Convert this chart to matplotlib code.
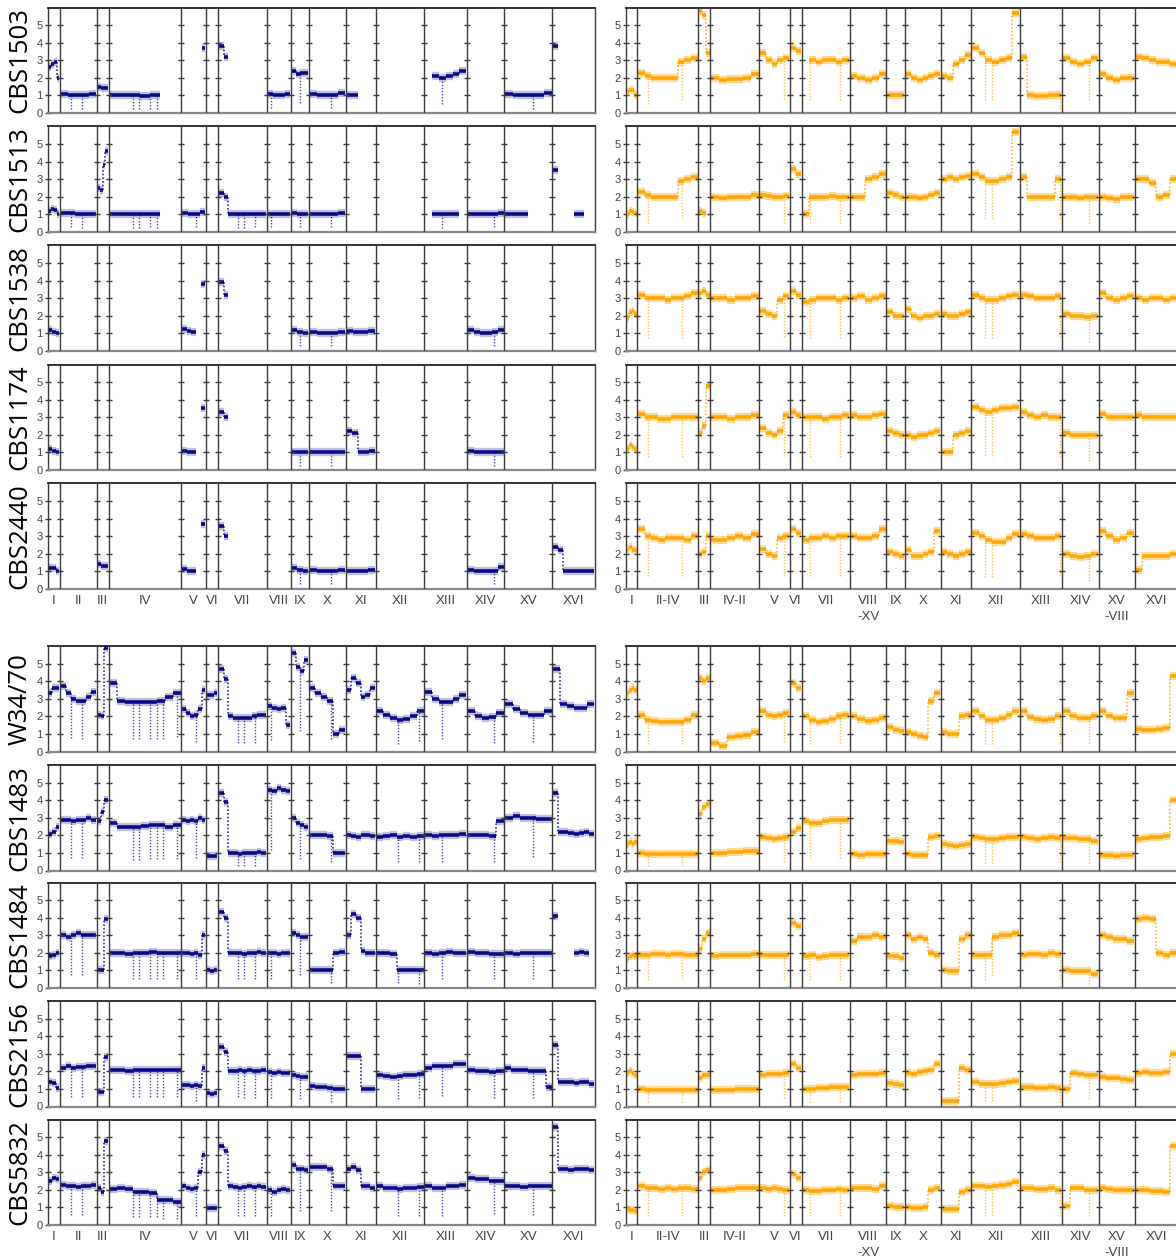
import numpy as np
import matplotlib
matplotlib.use('Agg')
import matplotlib.pyplot as plt

nan = float('nan')

# ---------------- chromosome layout (relative widths) ----------------
LEFT_CHROMS = ['I', 'II', 'III', 'IV', 'V', 'VI', 'VII', 'VIII', 'IX', 'X',
               'XI', 'XII', 'XIII', 'XIV', 'XV', 'XVI']
LEFT_WIDTHS = [22, 67, 22, 133, 45, 22, 89, 44, 33, 67, 55, 89, 78, 68, 88, 78]
RIGHT_CHROMS = ['I', 'II-IV', 'III', 'IV-II', 'V', 'VI', 'VII', 'VIII\n-XV', 'IX', 'X',
                'XI', 'XII', 'XIII', 'XIV', 'XV\n-VIII', 'XVI']
RIGHT_WIDTHS = [21, 111, 22, 90, 55, 22, 88, 67, 34, 65, 56, 89, 77, 67, 66, 78]

STRAINS = ['CBS1503', 'CBS1513', 'CBS1538', 'CBS1174', 'CBS2440',
           'W34/70', 'CBS1483', 'CBS1484', 'CBS2156', 'CBS5832']

# positions of recurrent coverage drop-outs along each genome (same units as widths)
DIPS_L = [42, 63, 156, 167, 186, 199, 211, 236, 271, 348, 359, 378, 407, 461, 517,
          640, 679, 721, 816, 887]
DIPS_R = [40, 102, 289, 337, 392, 657, 670, 794, 846]

# ---------------- copy-number levels (left: navy, right: orange) ----------------
# each chromosome: list of levels along the chromosome (nan = no data)
CBS1503_L = [
    [2.6, 2.8, 2.9, 2.0], [1.1, 1.0, 1.0, 1.0, 1.1], [1.5, 1.4, 1.4],
    [1.05, 1.0, 1.0, 0.95, 1.0, nan, nan], [nan, nan, nan, nan, nan, 3.7], [],
    [3.8, 3.2, nan, nan, nan, nan, nan, nan, nan, nan], [1.1, 1.0, 1.05, 1.1],
    [2.4, 2.2, 2.3, 2.3], [1.1, 1.0, 1.0, 1.05, 1.15], [1.05, 1.0, nan, nan, nan], [],
    [nan, 2.1, 2.0, 2.1, 2.2, 2.4], [], [1.1, 1.0, 1.0, 1.0, 1.05, 1.15],
    [3.8, nan, nan, nan, nan, nan, nan, nan]]
CBS1503_R = [
    [1.2, 1.3, 1.3, 1.0], [2.3, 2.1, 2.0, 2.0, 2.0, 2.0, 2.9, 3.0, 3.1], [5.8, 5.6, 3.4],
    [2.0, 1.9, 1.95, 1.95, 2.0, 2.2], [3.4, 3.0, 2.8, 3.0, 3.1], [3.7, 3.5],
    [nan, 3.0, 2.9, 3.0, 3.0, 2.9, 3.0], [2.1, 2.0, 1.9, 2.0, 2.2], [1.05, 1.0, 1.05],
    [2.2, 2.0, 1.9, 2.0, 2.1, 2.2], [2.1, 2.0, 2.8, 3.0, 3.3], [3.7, 3.4, 3.0, 2.9, 3.0, 3.1, 5.7],
    [3.2, 1.0, 0.95, 0.95, 1.0, 1.0], [3.1, 2.9, 2.8, 2.9, 3.1], [2.2, 2.0, 1.9, 2.0, 2.0],
    [3.2, 3.1, 3.0, 2.9, 2.9, 2.8]]

CBS1513_L = [
    [1.2, 1.3, 1.25, 1.0], [1.1, 1.1, 1.05, 1.0, 1.05], [2.5, 2.4, 3.8, 4.6],
    [1.05, 1.0, 1.0, 1.05, 1.0, nan, nan], [1.1, 1.05, 1.05, 1.15], [],
    [2.2, 2.0, 1.05, 1.0, 1.0, 1.0, 1.05, 1.05, 1.0, 1.05], [1.05, 1.0, 1.0, 1.05],
    [1.1, 1.05, 1.05], [1.05, 1.0, 1.0, 1.05, 1.1], [], [],
    [nan, 1.0, 1.0, 1.0, 1.05, nan], [1.05, 1.0, 1.0, 1.0, 1.05, 1.1],
    [1.05, 1.0, 1.05, nan, nan, nan], [3.5, nan, nan, nan, 1.0, 1.05, nan, nan]]
CBS1513_R = [
    [1.0, 1.2, 1.15, 1.1], [2.3, 2.1, 2.0, 2.0, 2.0, 2.0, 2.9, 3.0, 3.1], [1.2, 1.1, nan],
    [2.0, 1.95, 2.0, 2.0, 2.0, 2.1], [2.1, 2.05, 2.0, 2.0, 2.05], [3.6, 3.3],
    [1.0, 2.0, 2.0, 2.0, 2.05, 2.0, 2.0], [2.0, 2.0, 3.0, 3.1, 3.3], [2.2, 2.1, 2.0],
    [2.0, 2.0, 1.95, 2.0, 2.1, 2.2], [3.0, 3.1, 3.0, 3.1, 3.2], [3.3, 3.1, 2.9, 2.9, 3.0, 3.1, 5.7],
    [3.1, 2.0, 2.0, 2.0, 2.0, 3.0], [2.0, 2.0, 1.95, 2.0, 2.0], [2.0, 1.95, 1.9, 2.0, 2.0],
    [3.0, 3.0, 2.8, 2.0, 2.1, 3.0]]

CBS1538_L = [
    [1.2, 1.1, 1.05], [], [], [], [1.25, 1.15, 1.1, nan, 3.8], [],
    [3.9, 3.2, nan, nan, nan, nan, nan, nan, nan, nan], [], [1.2, 1.1, 1.05],
    [1.1, 1.0, 1.0, 1.05, 1.1], [1.15, 1.1, 1.1, 1.15], [], [],
    [1.2, 1.1, 1.05, 1.05, 1.1, 1.2], [], []]
CBS1538_R = [
    [1.9, 2.2, 2.3, 2.1], [3.2, 3.0, 3.0, 3.0, 2.9, 3.0, 3.0, 3.1, 3.3], [3.3, 3.4, 3.2],
    [3.0, 3.0, 2.9, 3.0, 3.0, 3.1], [2.3, 2.1, 2.0, 2.9, 3.1], [3.4, 3.2],
    [2.8, 2.9, 3.0, 3.0, 3.0, 2.9, 3.0], [3.0, 3.1, 2.9, 3.0, 3.1], [2.2, 2.0, 2.0],
    [2.4, 2.0, 1.9, 2.0, 2.0, 2.1], [2.1, 2.0, 2.0, 2.1, 2.2], [3.2, 3.0, 2.9, 2.9, 3.0, 3.1, 3.2],
    [3.2, 3.1, 3.0, 3.0, 3.0, 3.1], [2.1, 2.0, 2.0, 1.95, 2.0], [3.3, 3.0, 2.9, 3.0, 3.1],
    [3.0, 2.9, 3.0, 3.0, 2.9, 3.0]]

CBS1174_L = [
    [1.2, 1.1, 1.0], [], [], [], [1.1, 1.05, 1.0, nan, 3.5], [],
    [3.3, 3.0, nan, nan, nan, nan, nan, nan, nan, nan], [], [1.05, 1.0, 1.0],
    [1.05, 1.0, 1.0, 1.0, 1.05], [2.2, 2.1, 1.05, 1.0, 1.1], [], [],
    [1.1, 1.0, 1.0, 1.0, 1.0, 1.05], [], []]
CBS1174_R = [
    [1.2, 1.4, 1.3, 1.2], [3.2, 3.0, 3.0, 2.9, 2.9, 3.0, 3.0, 3.0, 3.0], [2.1, 2.5, 4.8],
    [3.0, 3.0, 2.9, 3.0, 3.0, 3.1], [2.4, 2.1, 2.0, 2.2, 3.1], [3.3, 3.1],
    [3.0, 3.0, 3.0, 2.9, 3.0, 3.0, 3.1], [3.1, 3.0, 3.0, 3.1, 3.2], [2.2, 2.1, 2.0],
    [2.0, 1.9, 2.0, 2.0, 2.1, 2.2], [1.05, 1.0, 2.0, 2.1, 2.2], [3.6, 3.4, 3.3, 3.4, 3.5, 3.5, 3.6],
    [3.3, 3.1, 3.0, 3.1, 3.0, 3.0], [2.1, 2.0, 2.0, 2.0, 2.0], [3.2, 3.0, 3.0, 3.0, 3.0],
    [3.1, 3.0, 3.0, 3.0, 3.0, 3.0]]

CBS2440_L = [
    [1.2, 1.2, 1.0], [], [1.4, 1.3, 1.3], [], [1.15, 1.05, 1.0, nan, 3.7], [],
    [3.6, 3.0, nan, nan, nan, nan, nan, nan, nan, nan], [], [1.2, 1.1, 1.05],
    [1.1, 1.05, 1.0, 1.05, 1.1], [1.0, 1.0, 1.05, 1.1], [], [],
    [1.1, 1.0, 1.0, 1.0, 1.05, 1.25], [], [2.4, 2.2, 1.0, 1.0, 1.0, 1.0, 1.0, 1.0]]
CBS2440_R = [
    [2.3, 2.4, 2.2, 2.2], [3.4, 3.0, 2.9, 2.8, 2.9, 2.9, 2.9, 2.8, 3.0], [2.0, 2.1, 3.0],
    [2.8, 2.8, 2.9, 3.0, 2.9, 3.1], [2.3, 2.0, 1.9, 2.9, 3.0], [3.4, 3.2],
    [2.8, 2.9, 2.9, 3.0, 2.9, 3.0, 3.0], [3.0, 2.9, 2.9, 3.0, 3.4], [2.1, 2.0, 1.9],
    [2.2, 1.9, 1.9, 2.0, 2.1, 3.3], [2.1, 2.0, 1.9, 2.0, 2.1], [3.2, 3.0, 2.8, 2.7, 2.7, 2.9, 3.1],
    [3.1, 3.0, 2.9, 2.9, 2.9, 3.0], [2.0, 1.9, 1.8, 1.9, 2.0], [3.3, 3.0, 2.8, 2.9, 3.2],
    [1.1, 1.9, 1.9, 1.9, 1.9, 2.0]]

W3470_L = [
    [3.3, 3.6, 3.6], [3.7, 3.3, 3.0, 2.9, 2.9, 3.1, 3.4], [2.1, 2.0, 5.9],
    [3.9, 2.9, 2.8, 2.8, 2.8, 2.8, 2.9, 3.1, 3.3], [2.4, 2.2, 2.0, 2.1, 2.4, 3.5], [3.2, 3.2, 3.3],
    [4.7, 4.1, 2.0, 1.9, 1.9, 1.9, 1.9, 2.0, 2.05, 2.1], [2.6, 2.5, 2.4, 2.5, 1.5],
    [5.6, 4.8, 4.6, 5.2], [3.6, 3.3, 3.1, 2.9, 1.0, 1.2], [3.5, 4.2, 3.9, 3.1, 3.2, 3.6],
    [2.3, 2.1, 1.9, 1.8, 1.85, 2.0, 2.3], [3.4, 3.0, 2.8, 2.8, 3.0, 3.2],
    [2.3, 2.0, 1.9, 1.95, 2.2], [2.7, 2.4, 2.2, 2.1, 2.1, 2.3], [4.7, 2.7, 2.6, 2.5, 2.5, 2.7]]
W3470_R = [
    [3.3, 3.5, 3.6, 3.5], [2.1, 1.8, 1.75, 1.7, 1.7, 1.7, 1.7, 1.8, 2.1], [4.2, 4.0, 4.2],
    [0.5, 0.3, 0.85, 0.9, 0.95, 1.1], [2.3, 2.1, 2.0, 2.05, 2.2], [3.9, 3.6],
    [2.0, 1.8, 1.7, 1.75, 1.85, 2.0, 2.1], [2.0, 1.85, 1.75, 1.8, 1.9], [1.4, 1.2, 1.15],
    [1.1, 1.0, 0.9, 0.85, 2.9, 3.3], [1.1, 1.0, 1.0, 2.0, 2.1], [2.3, 2.0, 1.8, 1.8, 1.9, 2.1, 2.3],
    [2.3, 1.95, 1.85, 1.8, 1.85, 2.0], [2.3, 2.0, 1.9, 1.9, 2.0], [2.3, 2.0, 1.9, 1.9, 3.3],
    [1.3, 1.25, 1.25, 1.3, 1.35, 4.3]]

CBS1483_L = [
    [2.1, 2.2, 2.5], [2.9, 2.9, 2.8, 2.9, 2.9, 3.0, 2.9], [2.8, 3.3, 4.0],
    [2.7, 2.5, 2.5, 2.5, 2.55, 2.6, 2.6, 2.5, 2.6], [2.9, 2.8, 2.9, 2.8, 3.0, 2.9], [0.8, 0.8, 0.8],
    [4.4, 3.9, 1.0, 1.0, 0.95, 1.0, 1.0, 1.0, 1.05, 1.0], [4.6, 4.5, 4.7, 4.6, 4.5],
    [3.0, 2.7, 2.6, 2.5], [2.0, 2.0, 2.0, 1.95, 1.0, 1.0], [2.0, 1.95, 1.9, 2.0, 2.0, 1.95],
    [1.9, 1.95, 2.0, 1.9, 1.95, 1.9, 1.95], [2.0, 1.95, 2.0, 2.0, 2.0, 2.05],
    [2.0, 2.0, 2.0, 1.95, 2.8], [3.0, 3.1, 3.0, 3.0, 2.95, 2.95],
    [4.4, 2.2, 2.2, 2.15, 2.1, 2.15, 2.2, 2.1]]
CBS1483_R = [
    [1.5, 1.6, 1.5, 1.6], [1.0, 0.95, 0.95, 0.95, 0.95, 0.95, 0.95, 0.95, 0.95], [3.2, 3.6, 3.8],
    [1.0, 1.0, 1.05, 1.05, 1.1, 1.1], [1.9, 1.85, 1.8, 1.85, 1.9], [2.2, 2.4],
    [2.8, 2.7, 2.7, 2.8, 2.9, 2.9, 2.9], [0.95, 0.9, 0.95, 0.95, 0.95], [1.7, 1.7, 1.6],
    [0.95, 0.9, 0.9, 0.9, 1.9, 1.95], [1.5, 1.45, 1.4, 1.45, 1.5], [1.9, 1.85, 1.8, 1.8, 1.85, 1.9, 1.9],
    [1.9, 1.85, 1.8, 1.85, 1.9, 1.85], [1.85, 1.85, 1.8, 1.8, 1.7], [0.9, 0.9, 0.85, 0.9, 0.9],
    [1.8, 1.85, 1.9, 1.9, 1.95, 4.0]]

CBS1484_L = [
    [1.8, 1.9, 2.0], [3.0, 2.9, 3.0, 3.1, 3.0, 3.0, 3.0], [1.0, 1.0, 3.9],
    [2.0, 2.0, 1.95, 2.0, 2.0, 2.05, 2.0, 2.0, 2.0], [2.0, 2.0, 1.95, 2.0, 1.9, 3.0], [1.0, 0.95, 1.0],
    [4.3, 4.0, 2.0, 2.0, 2.0, 1.95, 2.0, 2.0, 2.05, 2.0], [2.0, 2.0, 1.95, 2.0, 2.0],
    [3.1, 3.0, 2.9, 2.9], [1.05, 1.0, 1.0, 1.05, 2.0, 2.05], [3.0, 4.2, 4.0, 2.1, 2.0, 2.0],
    [2.0, 2.0, 1.95, 1.05, 1.0, 1.0, 1.0], [2.0, 1.95, 2.0, 2.05, 2.0, 2.0],
    [2.05, 2.0, 2.0, 1.95, 1.95], [2.0, 1.95, 2.0, 2.0, 2.0, 2.0],
    [4.1, nan, nan, nan, 2.0, 2.05, 2.0, nan]]
CBS1484_R = [
    [1.7, 1.8, 1.9, 1.8], [1.9, 1.9, 1.95, 1.95, 1.9, 1.95, 1.95, 1.9, 1.9], [2.2, 2.8, 3.1],
    [1.8, 1.85, 1.85, 1.9, 1.9, 1.95], [1.9, 1.85, 1.85, 1.9, 1.9], [3.7, 3.5],
    [1.8, 1.85, 1.75, 1.8, 1.85, 1.9, 1.9], [2.7, 2.9, 2.9, 3.0, 2.9], [1.8, 1.8, 1.7],
    [3.0, 2.8, 2.9, 2.8, 2.0, 1.9], [1.0, 0.95, 0.95, 2.8, 3.0], [1.9, 1.9, 1.85, 2.9, 3.0, 3.0, 3.1],
    [1.9, 1.95, 1.95, 1.9, 2.0, 1.95], [1.0, 0.95, 0.95, 0.95, 0.8], [3.0, 2.9, 2.8, 2.8, 2.7],
    [3.9, 4.0, 3.9, 2.0, 1.9, 2.0]]

CBS2156_L = [
    [1.4, 1.35, 1.05], [2.2, 2.3, 2.2, 2.25, 2.25, 2.3, 2.3], [0.8, 0.8, 2.8],
    [2.1, 2.05, 2.0, 2.05, 2.1, 2.05, 2.1, 2.05, 2.05], [1.25, 1.2, 1.15, 1.2, 1.15, 2.2],
    [0.75, 0.7, 0.75], [3.4, 3.1, 2.0, 2.0, 2.05, 2.0, 2.05, 2.0, 2.0, 2.05],
    [1.95, 1.9, 1.95, 1.9, 1.9], [1.8, 1.75, 1.7, 1.7], [1.15, 1.1, 1.1, 1.05, 1.0, 1.0],
    [2.9, 2.9, 2.85, 1.0, 1.0, 1.0], [1.8, 1.75, 1.7, 1.75, 1.8, 1.8, 1.85],
    [2.2, 2.3, 2.3, 2.3, 2.4, 2.4], [2.05, 2.0, 2.0, 1.95, 2.0],
    [2.2, 2.1, 2.05, 2.05, 2.0, 2.0, 2.0, 1.1], [3.5, 1.4, 1.4, 1.4, 1.35, 1.4, 1.4, 1.3]]
CBS2156_R = [
    [1.9, 2.0, 1.9, 1.8], [1.0, 0.95, 0.95, 0.95, 0.95, 0.95, 0.95, 0.95, 0.95], [1.6, 1.8, 1.8],
    [0.95, 0.95, 0.95, 1.0, 1.0, 1.0], [1.8, 1.85, 1.85, 1.85, 1.9], [2.4, 2.2],
    [1.0, 1.0, 1.05, 1.05, 1.1, 1.1, 1.1], [1.8, 1.85, 1.85, 1.85, 1.9], [1.35, 1.3, 1.2],
    [1.9, 1.85, 1.95, 2.0, 2.1, 2.4], [0.3, 0.3, 0.3, 2.2, 2.1], [1.4, 1.3, 1.3, 1.3, 1.35, 1.4, 1.45],
    [1.1, 1.1, 1.05, 1.05, 1.1, 1.05], [1.0, 1.9, 1.85, 1.8, 1.8], [1.7, 1.6, 1.6, 1.55, 1.5],
    [1.9, 1.95, 1.9, 1.9, 1.95, 3.0]]

CBS5832_L = [
    [2.5, 2.7, 2.6], [2.3, 2.2, 2.2, 2.15, 2.2, 2.2, 2.3], [2.1, 1.9, 4.8],
    [2.05, 2.1, 2.05, 1.9, 1.85, 1.8, 1.4, 1.4, 1.3], [2.2, 2.1, 2.05, 2.1, 3.0, 4.0],
    [0.95, 0.95, 0.95], [4.5, 4.2, 2.2, 2.15, 2.1, 2.15, 2.2, 2.15, 2.2, 2.15],
    [2.0, 1.9, 2.0, 2.05, 2.0], [3.4, 3.2, 3.2, 3.1], [3.3, 3.3, 3.3, 3.2, 2.2, 2.2],
    [3.2, 3.3, 3.1, 2.2, 2.2, 2.1], [2.2, 2.1, 2.1, 2.05, 2.1, 2.1, 2.15],
    [2.2, 2.1, 2.1, 2.2, 2.2, 2.25], [2.7, 2.6, 2.6, 2.5, 2.5],
    [2.2, 2.2, 2.15, 2.2, 2.2, 2.2], [5.6, 3.2, 3.2, 3.1, 3.2, 3.2, 3.2, 3.1]]
CBS5832_R = [
    [0.9, 0.85, 0.85, 0.8], [2.2, 2.1, 2.1, 2.05, 2.1, 2.05, 2.1, 2.1, 2.05], [2.7, 3.0, 3.1],
    [2.0, 2.0, 2.05, 2.1, 2.1, 2.1], [2.1, 2.05, 2.1, 2.05, 2.0], [2.9, 2.7],
    [2.0, 1.95, 1.95, 2.0, 2.0, 2.05, 2.0], [2.1, 2.1, 2.1, 2.05, 2.2], [1.1, 1.0, 1.0],
    [1.0, 0.95, 0.95, 1.0, 2.0, 2.1], [0.9, 0.9, 0.9, 1.9, 2.0], [2.2, 2.2, 2.15, 2.2, 2.25, 2.35, 2.45],
    [2.1, 2.1, 2.05, 2.05, 2.1, 2.0], [1.1, 2.1, 2.1, 2.0, 2.0], [2.1, 2.05, 2.0, 2.0, 2.0],
    [2.0, 2.0, 1.95, 1.95, 1.9, 4.5]]

LEFT_DATA = [CBS1503_L, CBS1513_L, CBS1538_L, CBS1174_L, CBS2440_L,
             W3470_L, CBS1483_L, CBS1484_L, CBS2156_L, CBS5832_L]
RIGHT_DATA = [CBS1503_R, CBS1513_R, CBS1538_R, CBS1174_R, CBS2440_R,
              W3470_R, CBS1483_R, CBS1484_R, CBS2156_R, CBS5832_R]

NAVY = '#000080'
ORANGE = '#FFA500'

# ---------------- layout ----------------
W, H = 1176, 1258
fig = plt.figure(figsize=(W / 100, H / 100), dpi=100)

ROW_TOPS = [7.5, 126.5, 245.5, 364.5, 483.5, 646, 765, 882.5, 1001, 1119.5]
ROW_H = 105.5
LEFT_X0, RIGHT_X0 = 48, 626
PX_PER_UNIT = 547 / 1000.0

LINE_COL = '#3a3a3a'
TICK_FONT = 'Liberation Sans'


def level_at(edges, profiles, pos, pad):
    idx = np.searchsorted(edges, pos, side='right') - 1
    if idx < 0 or idx >= len(profiles):
        return nan
    levels = profiles[idx]
    if len(levels) == 0:
        return nan
    x0, x1 = edges[idx] + pad, edges[idx + 1] - pad
    k = int((pos - x0) / (x1 - x0) * len(levels))
    k = min(max(k, 0), len(levels) - 1)
    return float(levels[k])


def draw_panel(ax, widths, profiles, color, dips, halo_alpha, labels=None):
    edges = np.concatenate([[0], np.cumsum(widths)])
    total = edges[-1]
    pad = 1.2
    hx, hy, vx, vy = [], [], [], []
    for i, levels in enumerate(profiles):
        if len(levels) == 0:
            continue
        v = np.array(levels, dtype=float)
        xs = np.linspace(edges[i] + pad, edges[i + 1] - pad, len(v) + 1)
        for j in range(len(v)):
            if np.isfinite(v[j]):
                hx += [xs[j], xs[j + 1], nan]
                hy += [v[j], v[j], nan]
            if j + 1 < len(v) and np.isfinite(v[j]) and np.isfinite(v[j + 1]) \
                    and abs(v[j + 1] - v[j]) > 0.15:
                vx += [xs[j + 1], xs[j + 1], nan]
                vy += [v[j], v[j + 1], nan]
    ax.plot(hx, hy, color=color, lw=6.0, alpha=halo_alpha, solid_capstyle='butt', zorder=2)
    ax.plot(hx, hy, color=color, lw=2.6, alpha=0.95, solid_capstyle='butt', zorder=3)
    ax.plot(vx, vy, color=color, lw=1.2, ls=(0, (1, 1.2)), alpha=0.8, zorder=3)
    for d in dips:
        lv = level_at(edges, profiles, d, pad)
        if np.isfinite(lv):
            ax.plot([d, d], [lv * 0.25, lv], color=color, lw=1.0, ls=(0, (1, 1.2)),
                    alpha=0.7, zorder=2)
    inner = edges[1:-1]
    ax.vlines(inner, 0, 6, color=LINE_COL, lw=1.0, zorder=4)
    for b in inner:
        ax.plot([b] * 5, [1, 2, 3, 4, 5], ls='none', marker='_', ms=5, mew=1.0,
                color=LINE_COL, zorder=5)
    ax.set_xlim(0, total)
    ax.set_ylim(0, 6)
    ax.set_yticks([0, 1, 2, 3, 4, 5])
    ax.set_yticklabels(['0', '1', '2', '3', '4', '5'], fontsize=8, color='#444444',
                       family=TICK_FONT)
    ax.tick_params(axis='y', direction='inout', length=4, width=1.0, color=LINE_COL, pad=2)
    if labels is not None:
        centers = (edges[:-1] + edges[1:]) / 2
        ax.set_xticks(centers)
        ax.set_xticklabels(labels, fontsize=9.5, color='#444444', family=TICK_FONT,
                           linespacing=1.45, va='top')
        ax.tick_params(axis='x', length=0, pad=4)
    else:
        ax.set_xticks([])
    ax.spines['top'].set_color('#222222')
    ax.spines['top'].set_linewidth(1.3)
    ax.spines['bottom'].set_color('#888888')
    ax.spines['bottom'].set_linewidth(1.6)
    ax.spines['left'].set_color(LINE_COL)
    ax.spines['left'].set_linewidth(1.0)
    ax.spines['right'].set_color(LINE_COL)
    ax.spines['right'].set_linewidth(1.0)


for r, name in enumerate(STRAINS):
    top = ROW_TOPS[r]
    y0 = 1 - (top + ROW_H) / H
    h = ROW_H / H
    show = r in (4, 9)
    wl = sum(LEFT_WIDTHS) * PX_PER_UNIT
    axl = fig.add_axes([LEFT_X0 / W, y0, wl / W, h])
    draw_panel(axl, LEFT_WIDTHS, LEFT_DATA[r], NAVY, DIPS_L, 0.25,
               LEFT_CHROMS if show else None)
    wr = sum(RIGHT_WIDTHS) * PX_PER_UNIT
    axr = fig.add_axes([RIGHT_X0 / W, y0, wr / W, h])
    draw_panel(axr, RIGHT_WIDTHS, RIGHT_DATA[r], ORANGE, DIPS_R, 0.4,
               RIGHT_CHROMS if show else None)
    fig.text(20 / W, 1 - (top + ROW_H / 2) / H, name, rotation=90, ha='center', va='center',
             fontsize=18.5, family='Open Sans', color='black')

fig.savefig('out.png', dpi=100)
